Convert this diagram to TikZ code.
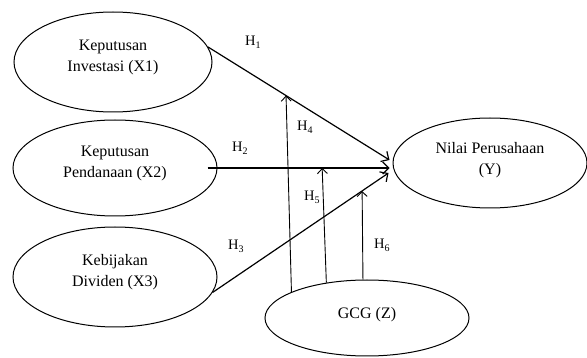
\documentclass[tikz,border=0pt]{standalone}
\usepackage{fontspec}
\setmainfont{Liberation Serif}
\usetikzlibrary{arrows.meta,shapes.geometric}
\newcommand{\hsub}[1]{H\raisebox{-0.45ex}{\fontsize{10}{10}\selectfont #1}}
\begin{document}
\begin{tikzpicture}[x=1pt, y=-1pt,
    var/.style={draw,ellipse,line width=1pt,inner sep=0pt},
    txt/.style={align=center,inner sep=0pt,yshift=5pt,font=\fontsize{16}{21}\selectfont},
    path/.style={line width=1.2pt,-{Straight Barb[length=6pt,width=12pt]}},
    mod/.style={line width=0.9pt,-{Straight Barb[length=5pt,width=10pt]}},
    hyp/.style={anchor=west,inner sep=0pt,font=\fontsize{14.5}{16}\selectfont}]
    \useasboundingbox (0,0) rectangle (587,358);

    \node[var,minimum width=198pt,minimum height=100pt,
      label={[txt,name=x1t]center:Keputusan\\Investasi (X1)}] (x1) at (113,62) {};
    \node[var,minimum width=204pt,minimum height=96pt,
      label={[txt,name=x2t]center:Keputusan\\Pendanaan (X2)}] (x2) at (115,168) {};
    \node[var,minimum width=204pt,minimum height=100pt,
      label={[txt,name=x3t]center:Kebijakan\\Dividen (X3)}] (x3) at (115,277) {};
    \node[var,minimum width=194pt,minimum height=90pt,
      label={[txt,yshift=-2pt,name=yt]center:Nilai Perusahaan\\(Y)}] (y) at (490,163) {};
    \node[var,minimum width=204pt,minimum height=76pt,
      label={[txt,yshift=-2pt,name=zt]center:GCG (Z)}] (z) at (367,318) {};

    \draw[path] (x1.9) -- coordinate[pos=0.43] (p1) ([yshift=3pt,xshift=-3pt]y.west);
    \draw[path] ([xshift=-10pt]x2.east) -- coordinate[pos=0.63] (p2) ([yshift=-5pt,xshift=-3pt]y.west);
    \draw[path] (x3.-9) -- coordinate[pos=0.85] (p3) ([yshift=-10pt,xshift=-4pt]y.west);

    \draw[mod] (z.161) -- (p1);
    \draw[mod] (z.139) -- (p2);
    \draw[mod] (z.96) -- (p3);

    \node[hyp] (h1) at (245,42) {\hsub{1}};
    \node[hyp] (h2) at (232,148) {\hsub{2}};
    \node[hyp] (h3) at (228,246) {\hsub{3}};
    \node[hyp] (h4) at (297,127) {\hsub{4}};
    \node[hyp] (h5) at (304,197) {\hsub{5}};
    \node[hyp] (h6) at (374,245) {\hsub{6}};
  \end{tikzpicture}
\end{document}
